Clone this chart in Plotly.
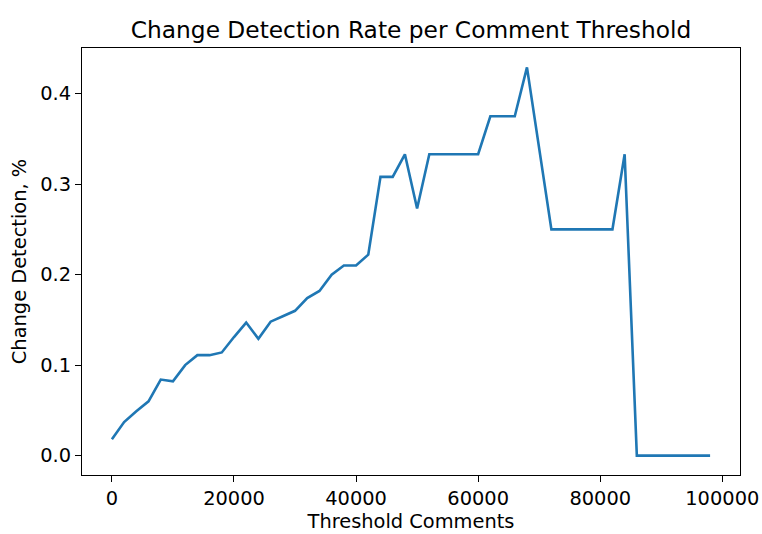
import plotly.graph_objects as go

# Comment thresholds (every 2000 comments) and the detection rate at each
thresholds = list(range(0, 100000, 2000))
detection_rate = [
    0.018, 0.037, 0.049, 0.060, 0.084, 0.082, 0.100, 0.111, 0.111, 0.114,
    0.131, 0.147, 0.129, 0.148, 0.154, 0.160, 0.174, 0.182, 0.200, 0.210,
    0.210, 0.222, 0.308, 0.308, 0.333, 0.273, 0.333, 0.333, 0.333, 0.333,
    0.333, 0.375, 0.375, 0.375, 0.429, 0.340, 0.250, 0.250, 0.250, 0.250,
    0.250, 0.250, 0.333, 0.000, 0.000, 0.000, 0.000, 0.000, 0.000, 0.000,
]
x_ticks = [0, 20000, 40000, 60000, 80000, 100000]
y_ticks = [0.0, 0.1, 0.2, 0.3, 0.4]

font = "DejaVu Sans"

fig = go.Figure()
fig.add_trace(go.Scatter(
    x=thresholds, y=detection_rate, mode="lines",
    line=dict(color="#1f77b4", width=2.6),
))

axis_common = dict(
    showline=True, linecolor="black", linewidth=1.2, mirror=True,
    ticks="outside", ticklen=6, tickwidth=1.2, tickcolor="black",
    showgrid=False, zeroline=False, automargin=False,
    tickfont=dict(family=font, size=19.4, color="black"),
    title_font=dict(family=font, size=19.4, color="black"),
)

fig.update_layout(
    width=762, height=534,
    paper_bgcolor="white", plot_bgcolor="white",
    margin=dict(l=82, r=22, t=48, b=59),
    showlegend=False,
    title=dict(
        text="Change Detection Rate per Comment Threshold",
        x=0.5, xanchor="center", xref="paper",
        y=1 - 30 / 534, yanchor="middle",
        font=dict(family=font, size=23.3, color="black"),
    ),
    xaxis=dict(
        range=[-4900, 102900], tickvals=x_ticks,
        ticktext=[str(v) for v in x_ticks],
        title=dict(text="Threshold Comments", standoff=3),
        **axis_common,
    ),
    yaxis=dict(
        range=[-0.02145, 0.45045], tickvals=y_ticks,
        ticktext=[f"{v:.1f}" for v in y_ticks],
        title=dict(text="Change Detection, %", standoff=8),
        **axis_common,
    ),
)

fig.write_html("out.html")
